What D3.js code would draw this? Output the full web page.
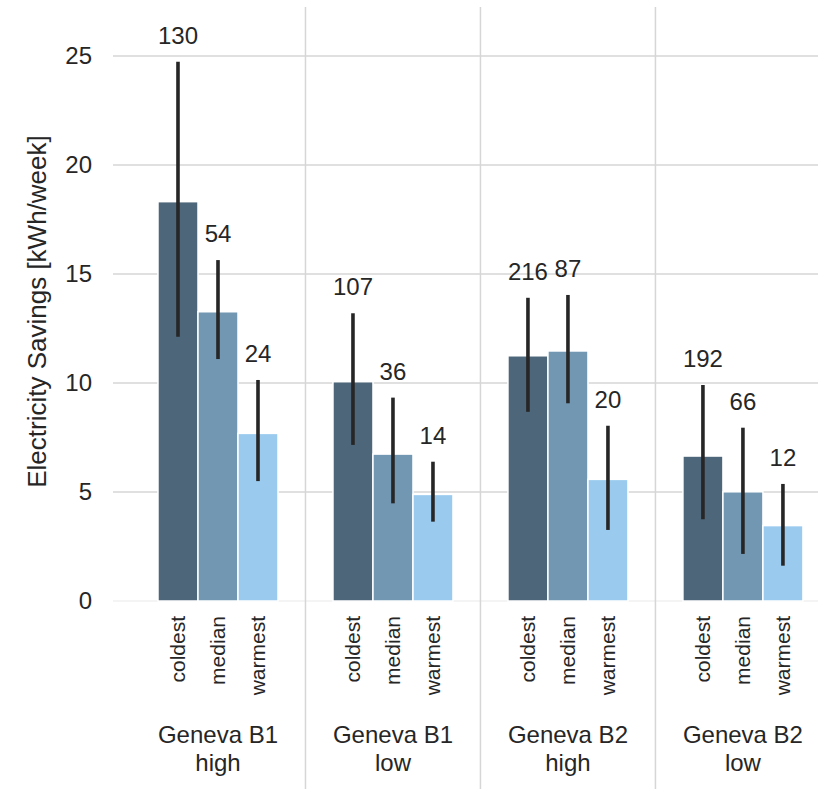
<!DOCTYPE html>
<html>
<head>
<meta charset="utf-8">
<script src="https://cdn.jsdelivr.net/npm/d3@7"></script>
<style>
  body { margin: 0; background: #fff; }
  svg text { font-family: "Liberation Sans", Arial, sans-serif; fill: #262626; }
</style>
</head>
<body>
<svg id="chart" width="818" height="789"></svg>
<script>
// Groups (two lines each) and climate categories
const groupLines = [["Geneva B1", "high"], ["Geneva B1", "low"], ["Geneva B2", "high"], ["Geneva B2", "low"]];
const climates = ["coldest", "median", "warmest"];
const climateColors = ["#4e6679", "#7197b3", "#9acbef"];

// Mean savings per climate, one value per group
const coldestMean = [18.32, 10.06, 11.25, 6.65];
const medianMean  = [13.27, 6.74, 11.47, 5.01];
const warmestMean = [7.69, 4.89, 5.58, 3.46];

// Error bar ranges
const coldestLow  = [12.12, 7.16, 8.68, 3.75];
const coldestHigh = [24.74, 13.2, 13.91, 9.91];
const medianLow   = [11.1, 4.48, 9.07, 2.16];
const medianHigh  = [15.64, 9.33, 14.04, 7.95];
const warmestLow  = [5.5, 3.64, 3.26, 1.62];
const warmestHigh = [10.14, 6.39, 8.04, 5.37];

// Sample counts shown above bars
const coldestCount = [130, 107, 216, 192];
const medianCount  = [54, 36, 87, 66];
const warmestCount = [24, 14, 20, 12];

const yTicks = [0, 5, 10, 15, 20, 25];

// Build flat records for drawing
const means = [coldestMean, medianMean, warmestMean];
const lows = [coldestLow, medianLow, warmestLow];
const highs = [coldestHigh, medianHigh, warmestHigh];
const counts = [coldestCount, medianCount, warmestCount];
const bars = [];
groupLines.forEach((g, gi) => {
    climates.forEach((c, ci) => {
        bars.push({ group: gi, climate: ci, value: means[ci][gi], lo: lows[ci][gi], hi: highs[ci][gi], n: counts[ci][gi] });
    });
});

const svg = d3.select("#chart");
const plotLeft = 113, plotRight = 818, plotTop = 7, plotBottom = 601;

// Scales
const x = d3.scaleLinear().domain([-0.6, 3.429]).range([plotLeft, plotRight]);
const y = d3.scaleLinear().domain([0, 27.25]).range([plotBottom, plotTop]);
const barW = x(0.2286) - x(0);
const offset = d => (d.climate - 1) * barW;

// Horizontal gridlines
svg.append("g")
    .selectAll("line")
    .data(yTicks)
    .join("line")
    .attr("x1", plotLeft).attr("x2", plotRight)
    .attr("y1", d => y(d)).attr("y2", d => y(d))
    .attr("stroke", d => d === 0 ? "#f0f0f0" : "#d6d6d6")
    .attr("stroke-width", 1.5);

// Vertical group separators
svg.append("g")
    .selectAll("line")
    .data([0.5, 1.5, 2.5])
    .join("line")
    .attr("x1", d => x(d)).attr("x2", d => x(d))
    .attr("y1", plotTop).attr("y2", 789)
    .attr("stroke", "#d6d6d6")
    .attr("stroke-width", 1.5);

// Bars
svg.append("g")
    .selectAll("rect")
    .data(bars)
    .join("rect")
    .attr("x", d => x(d.group) + offset(d) - barW / 2)
    .attr("width", barW)
    .attr("y", d => y(d.value))
    .attr("height", d => y(0) - y(d.value))
    .attr("fill", d => climateColors[d.climate])
    .attr("stroke", "#fff")
    .attr("stroke-width", 1.5);

// Error bars
svg.append("g")
    .selectAll("line")
    .data(bars)
    .join("line")
    .attr("x1", d => x(d.group) + offset(d)).attr("x2", d => x(d.group) + offset(d))
    .attr("y1", d => y(d.lo)).attr("y2", d => y(d.hi))
    .attr("stroke", "#262626")
    .attr("stroke-width", 3.6);

// Count labels
svg.append("g")
    .selectAll("text")
    .data(bars)
    .join("text")
    .attr("x", d => x(d.group) + offset(d))
    .attr("y", d => y(d.hi) - 18)
    .attr("text-anchor", "middle")
    .style("font-size", "24px")
    .text(d => d.n);

// Y axis tick labels
svg.append("g")
    .selectAll("text")
    .data(yTicks)
    .join("text")
    .attr("x", plotLeft - 21)
    .attr("y", d => y(d))
    .attr("dy", "0.35em")
    .attr("text-anchor", "end")
    .style("font-size", "24px")
    .text(d => d);

// Y axis label
svg.append("text")
    .attr("transform", `translate(46,${(133 + 490) / 2}) rotate(-90)`)
    .attr("text-anchor", "middle")
    .style("font-size", "26px")
    .text("Electricity Savings [kWh/week]");

// Climate tick labels (rotated)
svg.append("g")
    .selectAll("text")
    .data(bars)
    .join("text")
    .attr("transform", d => `translate(${x(d.group) + offset(d)},616) rotate(-90)`)
    .attr("dy", "0.35em")
    .attr("text-anchor", "end")
    .style("font-size", "21px")
    .text(d => climates[d.climate]);

// Group labels
const gl = svg.append("g")
    .selectAll("text")
    .data(groupLines)
    .join("text")
    .attr("text-anchor", "middle")
    .style("font-size", "24px");
gl.append("tspan")
    .attr("x", (d, i) => x(i))
    .attr("y", 743)
    .text(d => d[0]);
gl.append("tspan")
    .attr("x", (d, i) => x(i))
    .attr("y", 771)
    .text(d => d[1]);
</script>
</body>
</html>
